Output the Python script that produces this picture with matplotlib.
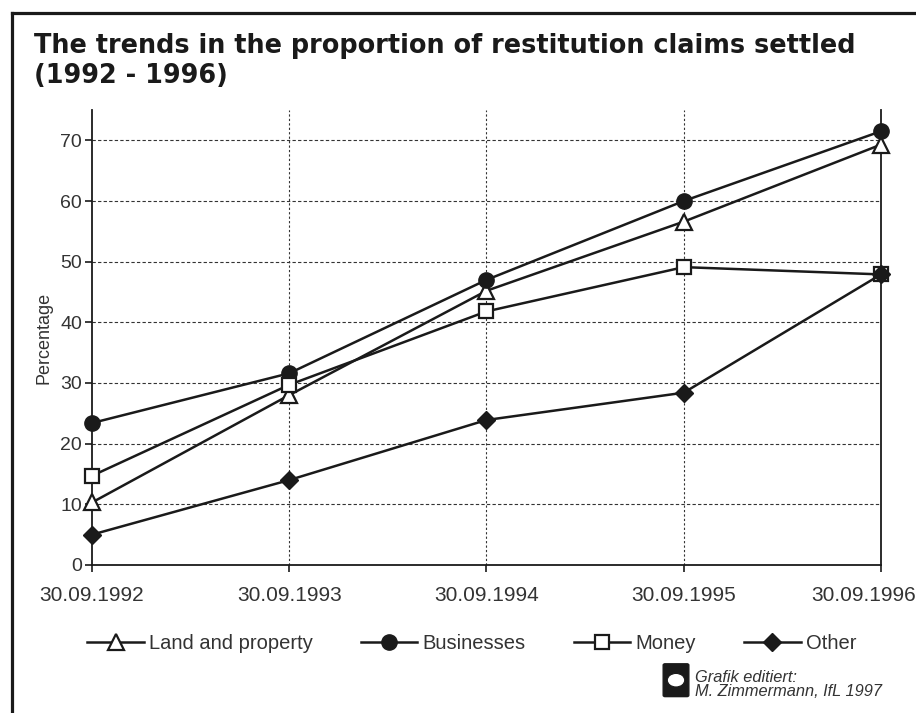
import numpy as np
import matplotlib.pyplot as plt
from matplotlib.lines import Line2D
from matplotlib.patches import FancyBboxPatch, Circle
from matplotlib.transforms import ScaledTranslation

plt.rcParams['font.family'] = ['Liberation Sans', 'DejaVu Sans']

dates = ['30.09.1992', '30.09.1993', '30.09.1994', '30.09.1995', '30.09.1996']
land = [10.3, 28.0, 45.2, 56.6, 69.3]
businesses = [23.4, 31.6, 47.0, 60.0, 71.5]
money = [14.7, 29.7, 41.8, 49.1, 47.9]
other = [5.0, 14.0, 23.9, 28.4, 47.9]
yticks = [0, 10, 20, 30, 40, 50, 60, 70]

fig = plt.figure(figsize=(9.16, 7.13), dpi=100)
ax = fig.add_axes([0.1004, 0.2076, 0.8614, 0.6381])

x = np.arange(len(dates))
ink = '#1a1a1a'
ax.plot(x, land, color=ink, lw=1.8, marker='^', ms=11, mfc='white', mec=ink, mew=1.6,
        label='Land and property', clip_on=False, zorder=3)
ax.plot(x, businesses, color=ink, lw=1.8, marker='o', ms=11, mfc=ink, mec=ink,
        label='Businesses', clip_on=False, zorder=3)
ax.plot(x, money, color=ink, lw=1.8, marker='s', ms=10, mfc='white', mec=ink, mew=1.6,
        label='Money', clip_on=False, zorder=3)
ax.plot(x, other, color=ink, lw=1.8, marker='D', ms=9, mfc=ink, mec=ink,
        label='Other', clip_on=False, zorder=4)

ax.set_xlim(0, 4)
ax.set_ylim(0, 75)
ax.set_xticks(x)
ax.set_xticklabels(dates)
ax.set_yticks(yticks)

for v in yticks[1:]:
    ax.axhline(v, color='#333333', lw=0.8, ls=(0, (3, 2)), zorder=1)
for xi in x[1:-1]:
    ax.axvline(xi, color='#333333', lw=0.8, ls=(0, (2, 2)), zorder=1)

ax.spines['top'].set_visible(False)
for s in ['left', 'bottom', 'right']:
    ax.spines[s].set_color(ink)
    ax.spines[s].set_linewidth(1.3)
ax.tick_params(axis='x', labelsize=15, labelcolor='#333333', color=ink, length=5, width=1.2, pad=10)
ax.tick_params(axis='y', labelsize=14, labelcolor='#333333', color=ink, length=5, width=1.2, pad=2)
# last date label sits shifted left so it stays inside the picture
last = ax.get_xticklabels()[-1]
last.set_transform(last.get_transform() + ScaledTranslation(-0.17, 0, fig.dpi_scale_trans))
ax.set_ylabel('Percentage', fontsize=13, color='#333333', labelpad=6)

fig.text(0.037, 1 - 33 / 713, 'The trends in the proportion of restitution claims settled\n(1992 - 1996)',
         fontsize=18.4, fontweight='bold', family='DejaVu Sans', color=ink,
         va='top', ha='left', linespacing=1.18)

ax.legend(loc='center', bbox_to_anchor=(0.515, 0.098), bbox_transform=fig.transFigure,
          ncol=4, frameon=False, fontsize=14.5, handlelength=2.8, columnspacing=2.4,
          handletextpad=0.25, labelcolor='#333333')

# credit block
fig.text(0.759, 0.040, 'Grafik editiert:\nM. Zimmermann, IfL 1997', fontsize=11.8,
         style='italic', color='#333333', va='center', ha='left', linespacing=0.95)
logo = FancyBboxPatch((0.726, 0.025), 0.024, 0.042, boxstyle='round,pad=0.002',
                      transform=fig.transFigure, fc=ink, ec=ink)
fig.patches.append(logo)
fig.patches.append(Circle((0.738, 0.046), 0.0095, transform=fig.transFigure,
                          fc='white', ec=ink, lw=0.8))

# outer frame
fig.add_artist(Line2D([0.0128, 0.0128], [0.0, 0.982], transform=fig.transFigure, color=ink, lw=2.3))
fig.add_artist(Line2D([0.0128, 1.0], [0.982, 0.982], transform=fig.transFigure, color=ink, lw=2.3))

fig.savefig('out.png', dpi=100)
